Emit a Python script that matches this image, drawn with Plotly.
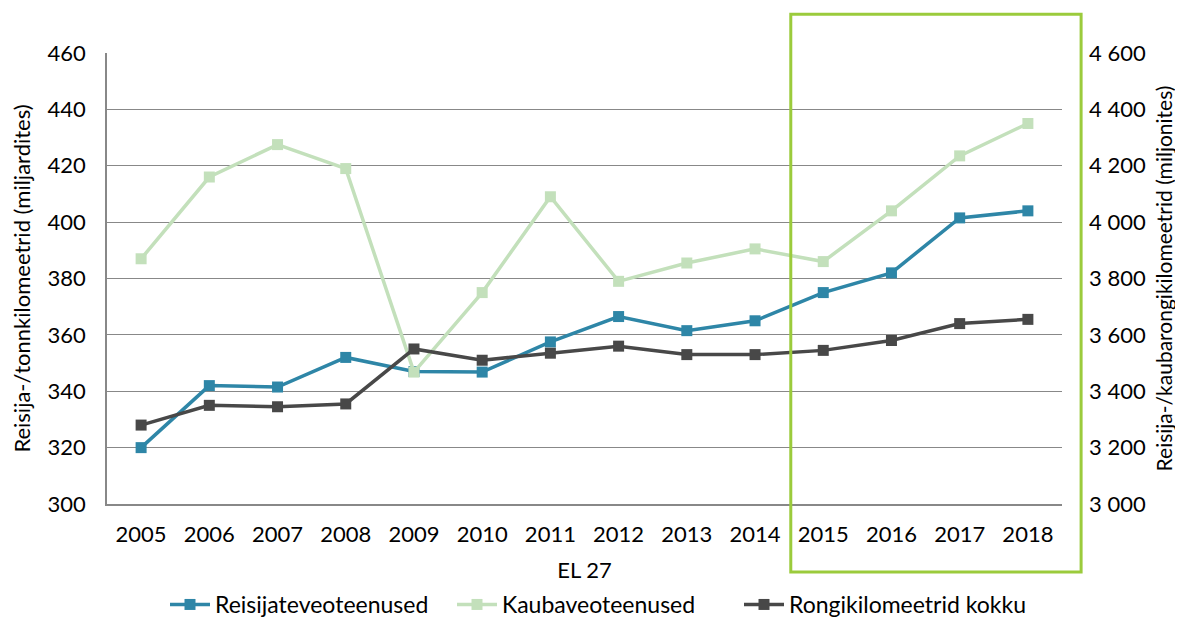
import plotly.graph_objects as go

years = ["2005", "2006", "2007", "2008", "2009", "2010", "2011", "2012", "2013", "2014", "2015", "2016", "2017", "2018"]
passenger = [320, 342, 341.5, 352, 347, 346.8, 357.5, 366.5, 361.5, 365, 375, 382, 401.5, 404]
freight = [387, 416, 427.5, 419, 346.8, 375, 409, 379, 385.5, 390.5, 386, 404, 423.5, 435]
train_km = [3280, 3350, 3345, 3355, 3550, 3510, 3535, 3560, 3530, 3530, 3545, 3580, 3640, 3655]

names = ["Reisijateveoteenused", "Kaubaveoteenused", "Rongikilomeetrid kokku"]
colors = ["#2E86A7", "#C3E0BB", "#484848"]

FONT = "Lato"

fig = go.Figure()
fig.add_trace(go.Scatter(x=years, y=passenger, name=names[0], mode="lines+markers",
                         line=dict(color=colors[0], width=3.5),
                         marker=dict(symbol="square", size=11, color=colors[0])))
fig.add_trace(go.Scatter(x=years, y=freight, name=names[1], mode="lines+markers",
                         line=dict(color=colors[1], width=3.5),
                         marker=dict(symbol="square", size=11, color=colors[1])))
fig.add_trace(go.Scatter(x=years, y=train_km, name=names[2], mode="lines+markers", yaxis="y2",
                         line=dict(color=colors[2], width=3.5),
                         marker=dict(symbol="square", size=11, color=colors[2])))

fig.add_shape(type="rect", xref="paper", yref="paper",
              x0=0.716, x1=1.02, y0=-0.151, y1=1.086,
              line=dict(color="#9BCB3C", width=3), fillcolor="rgba(0,0,0,0)", layer="above")

fig.update_layout(
    width=1175, height=618,
    margin=dict(l=99, r=121, t=45, b=122),
    paper_bgcolor="white", plot_bgcolor="white",
    separators=", ",
    font=dict(family=FONT, size=22, color="#000000"),
    showlegend=True,
    legend=dict(orientation="h", xref="container", x=0.5, xanchor="center",
                yref="container", y=0.0, yanchor="bottom",
                font=dict(family=FONT, size=23), itemwidth=40, entrywidth=232, tracegroupgap=0),
    xaxis=dict(type="category", range=[-0.5, 13.5], showgrid=False, automargin=False,
               showline=True, linecolor="#888888", linewidth=1.5,
               ticks="", ticklabelstandoff=10,
               tickfont=dict(family=FONT, size=22),
               title=dict(text="EL 27", font=dict(family=FONT, size=22), standoff=22)),
    yaxis=dict(range=[300, 460], dtick=20, showgrid=True, gridcolor="#888888", gridwidth=1.2,
               showline=True, linecolor="#888888", linewidth=1.5, zeroline=False, automargin=False,
               ticks="", ticklabelstandoff=15,
               tickfont=dict(family=FONT, size=22),
               title=dict(text="Reisija-/tonnkilomeetrid (miljardites)", font=dict(family=FONT, size=22), standoff=14)),
    yaxis2=dict(range=[3000, 4600], dtick=200, overlaying="y", side="right", automargin=False,
                showgrid=False, showline=False, zeroline=False, tickformat=",d",
                ticks="", ticklabelstandoff=26,
                tickfont=dict(family=FONT, size=22),
                title=dict(text="Reisija-/kaubarongikilomeetrid (miljonites)", font=dict(family=FONT, size=21), standoff=12)),
)

fig.write_html("out.html")
